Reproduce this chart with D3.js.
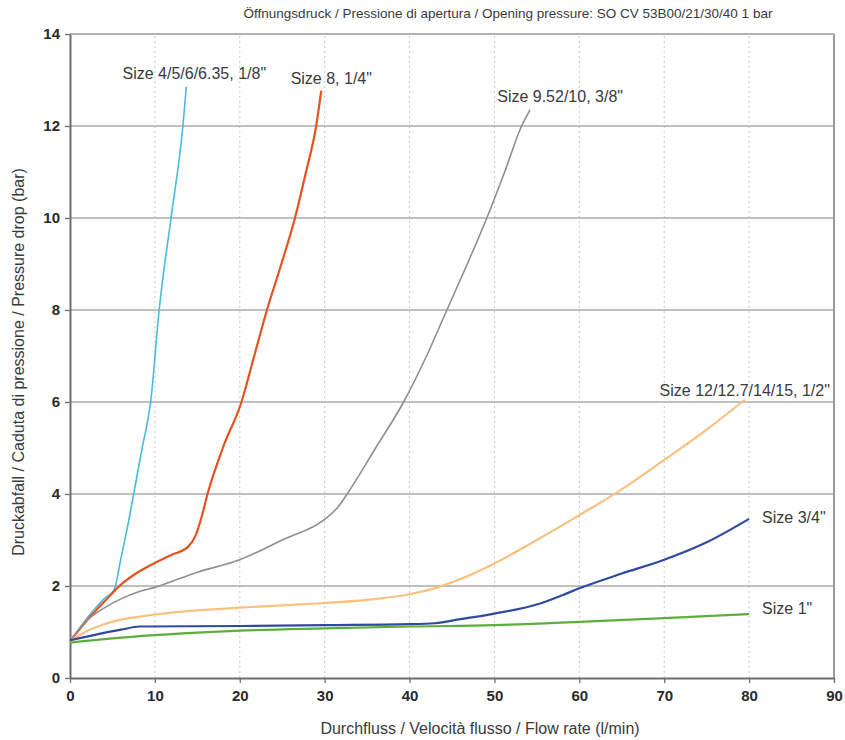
<!DOCTYPE html>
<html><head><meta charset="utf-8">
<script src="https://cdn.jsdelivr.net/npm/d3@7"></script>
<style>
body{margin:0;background:#fff}
text{font-family:"Liberation Sans",Arial,sans-serif}
</style>
</head><body>
<svg id="c" width="845" height="740"></svg>
<script>
// ---- data ----
const titleText = "Öffnungsdruck / Pressione di apertura / Opening pressure: SO CV 53B00/21/30/40 1 bar";
const xTitle = "Durchfluss / Velocità flusso / Flow rate (l/min)";
const yTitle = "Druckabfall / Caduta di pressione / Pressure drop (bar)";
const xTicks = [0,10,20,30,40,50,60,70,80,90];
const yTicks = [0,2,4,6,8,10,12,14];
const seriesNames = ["Size 4/5/6/6.35, 1/8\"", "Size 8, 1/4\"", "Size 9.52/10, 3/8\"", "Size 12/12.7/14/15, 1/2\"", "Size 3/4\"", "Size 1\""];
const seriesColors = ["#48bbde", "#e4531f", "#8f8f8f", "#f8c17f", "#2f4b9d", "#5cae3e"];
// [flow l/min, pressure drop bar]
const size18 = [[0,0.8],[1,1.05],[2,1.3],[3,1.52],[4,1.72],[5.2,1.92],[6,2.6],[7,3.5],[7.5,4.0],[8.5,5.0],[9.5,6.0],[10.5,8.0],[11.9,10.0],[13.3,12.0],[13.7,12.85]];
const size14 = [[0,0.8],[2,1.25],[4,1.65],[6,2.03],[8,2.3],[10,2.5],[12,2.68],[13.9,2.85],[14.8,3.1],[15.5,3.5],[16.2,4.0],[18,5.0],[20.2,6.0],[21.7,7.0],[23.2,8.0],[24.9,9.0],[26.5,10.0],[27.8,11.0],[29.0,12.0],[29.6,12.77]];
const size38 = [[0,0.8],[2,1.25],[4,1.52],[6,1.72],[8,1.87],[10,1.97],[15,2.3],[20,2.57],[25,3.0],[30,3.45],[31.5,3.7],[33,4.1],[36,5.0],[39.3,6.0],[42,7.0],[44.4,8.0],[46.8,9.0],[49.1,10.0],[51.2,11.0],[53.2,12.0],[54.2,12.35]];
const size12 = [[0,0.8],[2,1.02],[4,1.17],[6,1.27],[8,1.33],[10,1.38],[15,1.47],[20,1.53],[25,1.58],[30,1.63],[35,1.7],[40,1.82],[43.5,1.98],[46,2.15],[50,2.49],[55,3.0],[60,3.54],[65,4.1],[70,4.74],[75,5.4],[79.5,6.05]];
const size34 = [[0,0.82],[2,0.9],[4,0.98],[6,1.05],[8.2,1.12],[20,1.13],[30,1.15],[40,1.17],[43,1.19],[46,1.28],[50,1.4],[55.4,1.62],[58,1.8],[60,1.95],[65,2.27],[70,2.57],[75,2.95],[80,3.46]];
const size1 = [[0,0.77],[5,0.86],[10,0.93],[20,1.03],[30,1.08],[40,1.12],[50,1.15],[60,1.22],[70,1.30],[80,1.39]];
const seriesData = [size18, size14, size38, size12, size34, size1];

// ---- layout ----
const svg = d3.select("#c");
const x = d3.scaleLinear().domain([0,90]).range([70,834]);
const y = d3.scaleLinear().domain([0,14]).range([678,34]);

// grid
svg.append("g").selectAll("line").data(xTicks.filter(d=>d>0&&d<90)).join("line")
  .attr("x1",d=>x(d)).attr("x2",d=>x(d)).attr("y1",y(0)).attr("y2",y(14))
  .attr("stroke","#c8c8c8").attr("stroke-width",1).attr("stroke-dasharray","2,3");
svg.append("g").selectAll("line").data(yTicks.filter(d=>d>0&&d<14)).join("line")
  .attr("x1",x(0)).attr("x2",x(90)).attr("y1",d=>y(d)).attr("y2",d=>y(d))
  .attr("stroke","#ababab").attr("stroke-width",1.4);
// frame top/right
svg.append("line").attr("x1",x(0)).attr("x2",x(90)).attr("y1",y(14)).attr("y2",y(14)).attr("stroke","#9a9a9a").attr("stroke-width",1.6);
svg.append("line").attr("x1",x(90)).attr("x2",x(90)).attr("y1",y(14)).attr("y2",y(0)).attr("stroke","#9a9a9a").attr("stroke-width",2);

// axes
const xAxis = svg.append("g").attr("transform",`translate(0,${y(0)})`)
  .call(d3.axisBottom(x).tickValues(xTicks).tickSize(5).tickSizeOuter(0));
const yAxis = svg.append("g").attr("transform",`translate(${x(0)},0)`)
  .call(d3.axisLeft(y).tickValues(yTicks).tickSize(5).tickSizeOuter(0));
[xAxis,yAxis].forEach(a=>{
  a.select(".domain").attr("stroke","#6e6e6e").attr("stroke-width",2);
  a.selectAll(".tick line").attr("stroke","#6e6e6e").attr("stroke-width",1.3);
  a.selectAll(".tick text").attr("fill","#2a2a2a").attr("font-size",15).attr("font-weight","bold")
   .style("font-family","'Liberation Sans',Arial,sans-serif");
});
xAxis.selectAll(".tick text").attr("dy","1em");
yAxis.selectAll(".tick text").attr("x",-10).attr("dy","0.3em");

// lines
const line = d3.line().x(d=>x(d[0])).y(d=>y(d[1])).curve(d3.curveMonotoneX);
svg.append("g").selectAll("path").data(seriesData).join("path")
  .attr("d",line).attr("fill","none")
  .attr("stroke",(d,i)=>seriesColors[i]).attr("stroke-width",(d,i)=>i===0||i===2?1.6:2.2)
  .attr("stroke-linejoin","round");

// labels (offsets relative to series end)
const labelOffsets = [[8,-8,"middle"],[10,-6.5,"middle"],[30,-8,"middle"],[85,-4,"end"],[13,4,"start"],[13,0,"start"]];
svg.append("g").selectAll("text").data(seriesData).join("text")
  .attr("x",(d,i)=>x(d[d.length-1][0])+labelOffsets[i][0])
  .attr("y",(d,i)=>y(d[d.length-1][1])+labelOffsets[i][1])
  .attr("text-anchor",(d,i)=>labelOffsets[i][2])
  .attr("font-size",16).attr("fill","#3a3a3a")
  .text((d,i)=>seriesNames[i]);

// titles
svg.append("text").attr("x",508).attr("y",18).attr("text-anchor","middle").attr("font-size",13.5).attr("fill","#3a3a3a").text(titleText);
svg.append("text").attr("x",480).attr("y",734).attr("text-anchor","middle").attr("font-size",16).attr("fill","#3a3a3a").text(xTitle);
svg.append("text").attr("transform",`translate(24,362) rotate(-90)`).attr("text-anchor","middle").attr("font-size",16).attr("fill","#3a3a3a").text(yTitle);
</script>
</body></html>
